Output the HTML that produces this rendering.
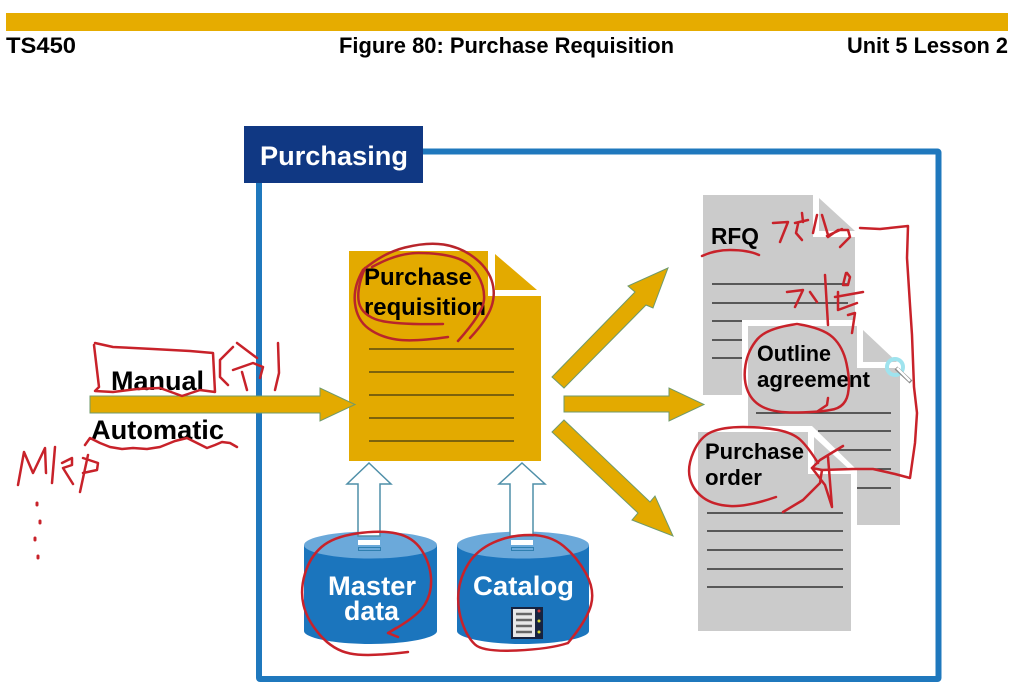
<!DOCTYPE html>
<html><head><meta charset="utf-8"><style>
html,body{margin:0;padding:0;background:#fff}
svg{display:block;filter:blur(.3px)}
text{font-family:"Liberation Sans",Arial,sans-serif;font-weight:bold}
.r{fill:none;stroke:#c8222a;stroke-width:2.5;stroke-linecap:round;stroke-linejoin:round}
.y{fill:#e3aa00}
.a{fill:#e3aa00;stroke:#6f9a6a;stroke-width:1}
</style></head><body>
<svg width="1016" height="692" viewBox="0 0 1016 692" xmlns="http://www.w3.org/2000/svg">
<rect width="1016" height="692" fill="#fff"/>
<rect x="6" y="13" width="1002" height="18" fill="#e6ac00"/>
<g fill="#000" font-size="22">
<text x="6" y="53" textLength="70" lengthAdjust="spacingAndGlyphs">TS450</text>
<text x="339" y="53" textLength="335" lengthAdjust="spacingAndGlyphs">Figure 80: Purchase Requisition</text>
<text x="847" y="53" textLength="161" lengthAdjust="spacingAndGlyphs">Unit 5 Lesson 2</text>
</g>

<rect x="259" y="151.500" width="679.500" height="527.500" rx="1" fill="none" stroke="#1f78bd" stroke-width="6"/>
<rect x="244" y="126" width="179" height="57" fill="#103883"/>
<text x="260" y="165" fill="#fff" font-size="27" textLength="148" lengthAdjust="spacingAndGlyphs">Purchasing</text>

<!-- yellow doc -->
<path class="y" d="M349 251H488V296H541V461H349Z"/>
<path class="y" d="M495 254L537 290H495Z"/>
<path d="M369 349H514M369 372H514M369 395H514M369 418H514M369 441H514" fill="none" stroke="#5a4a10" stroke-width="1.600"/>
<g fill="#000" font-size="24">
<text x="364" y="285" textLength="108" lengthAdjust="spacingAndGlyphs">Purchase</text>
<text x="364" y="315" textLength="122" lengthAdjust="spacingAndGlyphs">requisition</text>
</g>

<!-- labels left -->
<g fill="#000" font-size="27">
<text x="111" y="390" textLength="93" lengthAdjust="spacingAndGlyphs">Manual</text>
<text x="91" y="439" textLength="133" lengthAdjust="spacingAndGlyphs">Automatic</text>
</g>

<!-- main arrows -->
<path class="a" d="M90 396H320V388L355 404.500L320 421V413H90Z"/>
<path class="a" d="M564 396H669V388L704 404.500L669 421V412H564Z"/>
<path class="a" d="M552 377L635 292L628 286L668 268L653 308L646 305L564 388Z"/>
<path class="a" d="M564 420L650 502L655 496L673 536L632 520L638 513L552 432Z"/>

<!-- RFQ -->
<path fill="#cbcbcb" d="M703 195H813V237H855V395H703Z"/>
<path fill="#cbcbcb" d="M819 198L855 231H819Z"/>
<path fill="none" stroke="#333" stroke-width="1.500" d="M712 284H848M712 303H848M712 321H742M712 340H742M712 358H742"/>
<text x="711" y="244" fill="#000" font-size="23" textLength="48" lengthAdjust="spacingAndGlyphs">RFQ</text>

<!-- Outline -->
<path fill="#fff" d="M742 320H857V368H906V531H742Z"/>
<path fill="#cbcbcb" d="M748 326H857V368H900V525H748Z"/>
<path fill="#cbcbcb" d="M863 330L897 362H863Z"/>
<path fill="none" stroke="#333" stroke-width="1.500" d="M756 413H891M818 431H891M818 450H891M850 469H891M857 488H891"/>
<g fill="#000" font-size="22">
<text x="757" y="361" textLength="74" lengthAdjust="spacingAndGlyphs">Outline</text>
<text x="757" y="387" textLength="113" lengthAdjust="spacingAndGlyphs">agreement</text>
</g>

<!-- PO -->
<path fill="#fff" d="M692 426H812L857 470V637H692Z"/>
<path fill="#cbcbcb" d="M698 432H808V474H851V631H698Z"/>
<path fill="#cbcbcb" d="M814 437L850 470H814Z"/>
<path fill="none" stroke="#333" stroke-width="1.600" d="M707 513H843M707 531H843M707 550H843M707 569H843M707 587H843"/>
<g fill="#000" font-size="22">
<text x="705" y="459" textLength="99" lengthAdjust="spacingAndGlyphs">Purchase</text>
<text x="705" y="485" textLength="57" lengthAdjust="spacingAndGlyphs">order</text>
</g>

<!-- cylinders -->
<path fill="#1b75bd" d="M304 545V631C304 638 335 644 370.500 644S437 638 437 631V545Z"/>
<ellipse cx="370.500" cy="545" rx="66.500" ry="13.500" fill="#6ba9da"/>
<path fill="#1b75bd" d="M457 545V631C457 638 488 644 523 644S589 638 589 631V545Z"/>
<ellipse cx="523" cy="545" rx="66" ry="13.500" fill="#6ba9da"/>

<!-- white arrows -->
<g fill="#fff" stroke="#4f8fa8" stroke-width="1.500">
<path d="M369 463L391 484H380V536H358V484H347Z"/>
<path d="M522 463L545 484H533V536H510V484H499Z"/>
</g>
<g fill="#fff"><rect x="358" y="540" width="22" height="5"/><rect x="511" y="540" width="22" height="5"/></g>
<g fill="#6ba9da" stroke="#2f7fb0"><rect x="358.500" y="547.500" width="22" height="3"/><rect x="511.500" y="547.500" width="22" height="3"/></g>

<g fill="#fff" font-size="27">
<text x="328" y="595" textLength="88" lengthAdjust="spacingAndGlyphs">Master</text>
<text x="344" y="620" textLength="55" lengthAdjust="spacingAndGlyphs">data</text>
<text x="473" y="595" textLength="101" lengthAdjust="spacingAndGlyphs">Catalog</text>
</g>
<rect x="511" y="607" width="32" height="32" fill="#17233f"/>
<rect x="513" y="609" width="22" height="28" fill="#e8e8e8"/>
<path d="M516 614H532M516 620H532M516 626H532M516 632H532" stroke="#666" stroke-width="2.500"/>
<circle cx="539" cy="611" r="1.500" fill="#c33"/><circle cx="539" cy="621" r="1.500" fill="#dd3"/><circle cx="539" cy="632" r="1.500" fill="#dd3"/>

<!-- cursor -->
<circle cx="895" cy="367" r="8" fill="none" stroke="#9fe3ee" stroke-width="4"/>
<path d="M896 368L911 382" stroke="#888" stroke-width="4"/><path d="M897 368L910 381" stroke="#fff" stroke-width="2.500"/>

<!-- red ink -->
<g class="r">
<!-- Manual box -->
<path d="M95 343L113 347L153 349L190 351L213 353L215 392L200 390L182 396L160 388L137 389L113 392L95 391L99 387L94 345"/>
<path d="M233 347L220 360L220 377L228 385M233 370L253 363L263 367L260 378M242 372L247 390M237 343L257 358M278 343L279 373L275 390"/>
<!-- Automatic underline -->
<path d="M85 445L90 438L100 443L110 447L122 449L133 448L147 449L160 447L175 441L187 438L197 443L207 448L215 445L222 442L230 443L237 447"/>
<!-- MRP -->
<path d="M18 485L24 452L33 473L45 448L46 473M55 447L52 483M62 463L72 458L72 465L63 468L73 484M88 455L80 492M83 458L98 463L97 470L83 473"/>
<path d="M37 503v2M40 521v2M35 538v2M38 556v2" stroke-width="3"/>
<!-- Purchase requisition -->
<path stroke="#b8252b" d="M363 270Q383 253 405 247.500Q427 242 443.500 244.500Q460 247 473.500 257Q487 267 491.500 280Q496 293 491.500 306.500Q487 320 470 338"/>
<path stroke="#b8252b" d="M363 270Q353 287 355 303.500Q357 320 368.500 328.500Q380 337 396.500 339.500Q413 342 448 337"/>
<path stroke="#b8252b" d="M372 267Q397 253 418.500 253Q440 253 455 257.500Q470 262 477.500 274.500Q485 287 484 300Q483 313 458 341"/>
<path stroke="#b8252b" d="M365 268Q357 287 358.500 300Q360 313 375 319Q390 325 443 324"/>
<!-- RFQ -->
<path d="M702 256Q715 250 730 250Q748 250 759 255"/>
<path d="M773 223L788 222L780 242M795 223L808 220M802 213L803 222M798 224L796 233L802 240M817 215L813 233M822 215L828 235M828 237L838 230L848 230L850 237L840 247M827 236L842 229"/>
<path d="M860 228L880 229L908 226L907 258L910 305L912 335L914 387L917 413L915 443L910 478L895 474L873 469L853 469L822 470L812 468"/>
<!-- Korean 2 -->
<path d="M787 292L803 290L795 307M810 292L817 302M825 275L828 325M838 292L838 310M847 273L850 277L848 285L843 285L846 273M835 297L863 292M838 310L857 303M848 315L855 313L852 333"/>
<!-- Outline circle -->
<path d="M797 324Q767 328 757.500 339Q748 350 745.500 365Q743 380 748 391.500Q753 403 765 408Q777 413 798 412.500Q820 412 830 410Q847 408 848.500 390Q850 380 846.500 363.500Q843 347 833 337.500Q823 328 797 324"/>
<path d="M828 398L827 405L818 411"/>
<!-- Purchase order circle -->
<path d="M776 497Q747 507 730 506Q713 505 703 497.500Q693 490 690 478.500Q687 467 693.500 452Q700 437 711.500 432Q723 427 743 427Q763 427 778 430Q793 433 800.500 440Q808 447 818 463"/>
<path d="M843 446L820 460L812 468L825 485L832 507L828 457M822 470L820 483L803 500L783 512"/>
<!-- Master circle -->
<path d="M408 652Q367 657 350 653.500Q333 650 320 635Q307 620 303.500 605Q300 590 305 573.500Q310 557 321.500 547Q333 537 356.500 533.500Q380 530 396.500 533.500Q413 537 421.500 550Q430 563 431 578Q432 593 424.500 605Q417 617 388 633L398 637M388 633L396 628"/>
<!-- Catalog circle -->
<path d="M568 643Q550 649 516.500 650.500Q483 652 475 644.500Q467 637 462 622Q457 607 458.500 592Q460 577 468.500 563.500Q477 550 493.500 542.500Q510 535 530 535Q550 535 563.500 546Q577 557 586 573.500Q595 590 591 605Q587 620 568 643"/>
</g>
</svg>
</body></html>
